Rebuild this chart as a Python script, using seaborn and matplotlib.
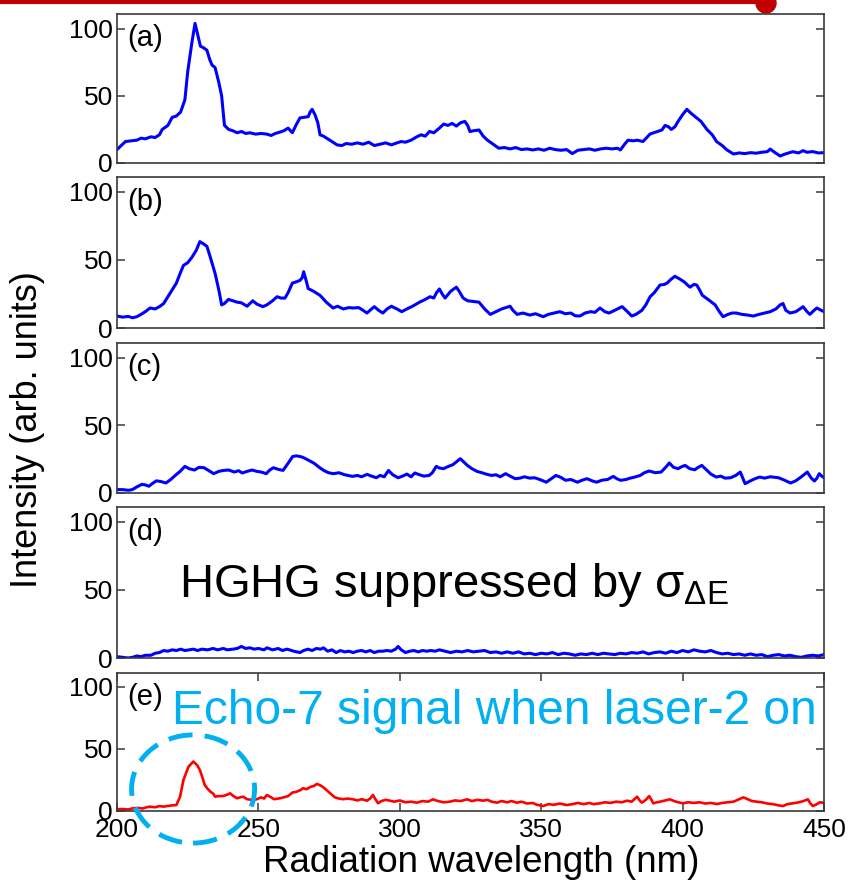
import numpy as np
import pandas as pd
import matplotlib.pyplot as plt
import seaborn as sns
from matplotlib.patches import Ellipse
from matplotlib.lines import Line2D

# 光谱数据 (波长 nm, 强度 arb. units)
wl_a = [200, 201.5, 203, 205, 207, 208.5, 210, 212, 213.5, 215, 216, 218, 219.5, 221, 222.5, 224,
        225, 226.5, 227.6, 228.5, 229.5, 230.5, 231.8, 232.8, 233.6, 234.7, 236, 237, 238, 239.5,
        241, 242.5, 244, 245.5, 247, 249, 251, 253, 254.5, 256, 257.6, 259, 260.5, 262, 263.5,
        264.7, 266, 267.6, 268.3, 269, 270, 271, 271.8, 273, 274.5, 276, 277.8, 279.5, 281, 283,
        285, 287, 289, 291, 293, 295, 297, 299, 300.5, 302, 304, 306, 307.5, 309, 310.5, 312,
        314, 315.5, 317, 318.5, 320, 321.5, 323, 324, 324.8, 326, 328, 329.5, 331, 333, 335, 337,
        339, 341, 343, 345, 347, 349, 351, 353, 355, 357, 359, 361, 363, 365, 367, 369, 371, 373,
        375, 377, 378, 379.5, 380.7, 382.5, 384, 386, 388.5, 390.5, 392.7, 393.8, 395, 396, 397.3,
        398.4, 400, 401.5, 403, 405, 406.5, 408.6, 410.5, 412, 414, 415.7, 417, 418, 420, 422,
        424, 426, 428, 430, 431, 432.5, 434.5, 436, 437.5, 439, 441, 442.6, 444, 446, 448, 450]
int_a = [10, 13, 16, 16.5, 17, 18.5, 18, 19.5, 19, 21, 25, 28, 34, 35, 38, 47,
         68, 90, 104, 96, 87, 86, 84, 77, 73, 71, 60, 50, 28, 25,
         24, 22.5, 23.5, 22, 22.5, 21.5, 22, 21.5, 20.5, 22, 23, 24, 26, 22.6, 29,
         33.6, 34, 34.5, 38, 40, 36, 30, 21, 20, 18, 16, 13.5, 13, 14.5, 14,
         15, 14, 15.5, 13, 14, 15, 13.5, 15, 16, 15.5, 17, 19.5, 21, 20, 23.5, 22.5,
         26, 29, 28, 29.5, 27.5, 30, 31, 28, 23.4, 24, 24.6, 20, 17, 14, 11, 11.5,
         10.5, 11.5, 10, 10.5, 9.7, 10.5, 9.5, 11, 10, 9.5, 10, 7, 9.5, 10, 10.5, 9.5, 10.5, 11,
         10.5, 11, 9.7, 14, 17, 16.5, 17, 16, 21.6, 23, 24.6, 28, 27, 25, 27,
         31, 36, 40, 37, 33.6, 31, 25, 21, 16, 13, 9.7, 8, 6.7, 7.5, 7,
         7.7, 7.3, 8, 8.5, 10.4, 8, 5.2, 6.5, 7.5, 8.4, 7.5, 9.2, 8, 8.5, 7.5, 7.7]

wl_b = [200, 202, 204, 205.5, 207, 208.5, 210, 211.7, 213.5, 215, 216.5, 217.7, 219.5, 221,
        222.3, 223.5, 225, 226.5, 228, 229.3, 230.5, 231.8, 233, 234.7, 236, 237, 238, 239.4,
        241, 242.5, 244, 246, 247, 248, 249.5, 251.6, 253, 255, 256.6, 258, 259.4, 260.5, 262,
        263.5, 264.7, 265.5, 266, 267, 267.6, 269.5, 271.8, 274, 276.4, 278, 280, 282, 283.5,
        285.5, 287, 288.4, 290, 291, 292.5, 294, 295.5, 297, 299, 300.7, 302.5, 304.5, 307, 309,
        310.7, 312, 313, 314, 315, 316, 318, 320, 321, 322.4, 324, 326, 328, 330, 332, 334, 336,
        337.5, 339, 340, 341.5, 343.5, 346, 348, 350.7, 352.5, 354.5, 356.6, 358.5, 360.5, 362,
        363.7, 365.5, 367.5, 369, 370.8, 372.5, 374, 376, 378.6, 380.5, 382, 383.5, 385.6, 387,
        388.5, 390, 392, 393.5, 394.5, 396, 397.3, 399, 400.5, 402.6, 404, 405, 406, 407, 409,
        411.5, 413, 414.3, 416, 417.5, 419, 421, 423, 425, 427, 429, 431, 433, 434.5, 435.5,
        436.5, 438, 440, 441.5, 442.6, 444, 445, 446.5, 447.5, 449, 450]
int_b = [8.8, 8, 8.5, 7.5, 8.3, 10, 12, 14.7, 14, 15.7, 18, 22, 28, 33,
         40, 46, 48, 52, 57, 63.5, 62, 60, 52, 40, 28, 17, 18, 21,
         20, 19, 18.5, 16, 18, 20, 17.5, 15.7, 17, 20, 23, 22, 22, 26, 33,
         34, 35, 37, 41.4, 34, 29, 27, 24, 19, 14.7, 16, 14, 15, 14.7,
         15, 13, 11, 14, 15.7, 13, 11, 14, 16, 14, 12, 14, 16, 19, 21,
         23, 22, 26, 28.7, 25, 22, 27, 30, 27, 22, 20, 19.5, 19, 14, 10, 12, 14,
         15, 16, 13, 10, 11, 9.5, 10.5, 8.3, 10, 11, 12, 10.5, 11, 9,
         8.8, 11, 12, 11.5, 14.7, 12, 11, 13, 15.7, 12, 8.8, 10, 13, 17,
         23, 26, 31.6, 32, 33, 36, 38, 36, 34, 30, 32, 31.6, 28, 24, 21,
         17, 12, 8.3, 10, 11, 11, 10, 9.5, 8.8, 10, 11, 12, 14, 17, 18,
         13, 11, 12, 14, 15.7, 12, 10, 13, 14.7, 13, 12]

wl_c = [200, 202, 204, 205.4, 207, 208.8, 210, 211.3, 212.5, 213.9, 215.5, 217.3, 219, 220.6,
        222.3, 224, 225.5, 227.4, 229, 230.8, 232.5, 234.2, 236, 237.6, 239.5, 241.5, 243, 244.3,
        246, 247.7, 249.5, 251, 252.8, 254, 255.3, 257, 258.7, 260.5, 262.1, 263.5, 265.5, 267.5,
        269.7, 271.5, 273.1, 274.8, 276.5, 278.5, 280.5, 283.3, 285, 286.5, 288.4, 290, 291.7,
        293, 294.5, 296, 297.5, 299.4, 301, 302.5, 304, 305.3, 307, 308.5, 310.4, 311.5, 312.9,
        314, 315.4, 317, 318.8, 320, 321.4, 322.6, 323.9, 325.5, 327.3, 329, 330.5, 332.4, 334,
        335.5, 337.4, 339, 340.8, 342.5, 344, 346, 347.6, 349.5, 351.8, 353.5, 355.2, 357, 358.6,
        360.5, 362.8, 364.5, 366.2, 368, 369.6, 371.5, 373.5, 375.5, 376.8, 378.1, 380, 381.5,
        383.1, 385, 386.5, 388.2, 390.3, 392.4, 394, 395.3, 396.8, 398.4, 399.7, 400.9, 402.5,
        404.3, 405.5, 406.8, 408.5, 410, 411.9, 413.5, 415, 417, 418.8, 420.4, 421.3, 422.1, 424,
        425.5, 427.2, 429, 431, 433.9, 436, 438.2, 440, 442, 444.1, 445.5, 446.6, 447.5, 448.3,
        449.2, 450]
int_c = [2.5, 2.5, 2, 2.5, 4.5, 6.4, 6, 5, 7, 9, 8.5, 7.4, 10, 13,
         16, 19.7, 18, 17, 19, 18.7, 16.5, 14.3, 16, 16.7, 17, 15.5, 16.5, 14.8,
         16, 17, 16, 15.5, 14.3, 17, 18.7, 17.5, 16.7, 22, 27, 27.5, 26.6, 24.5,
         22, 19, 16.7, 15, 14.3, 15, 13.5, 12.3, 13, 12, 13.8, 12.5, 11.3,
         13, 12, 16.7, 13.5, 11.3, 12.5, 14, 12, 14.8, 13.5, 12.5, 13, 15, 19.7,
         18.5, 18, 19.5, 21, 23, 25.4, 23, 20.4, 18, 16, 15, 14, 13, 13.5,
         12, 14.3, 12.5, 10.6, 11, 12, 11, 11.3, 10, 8, 10.5, 13, 11.5, 9.4,
         10, 8, 9.5, 10.6, 9, 8, 9.5, 10, 12.3, 10.5, 9.4, 10, 11,
         11.8, 13, 15, 16.3, 15, 15.5, 19, 22.2, 19, 18, 19.5, 20.4, 18,
         17.2, 19, 20.4, 17, 14, 11.8, 12.5, 11, 11.3, 13, 15.5, 11, 6.9, 9,
         10.5, 11.8, 11, 12, 11.3, 9.5, 7.4, 9, 12, 15.5, 11, 8.9, 11, 14.3,
         12.5, 11.3]

wl_d = [200, 202, 204, 205.5, 207, 208.5, 210, 212, 213.5, 215, 216.5, 218, 219.5, 221, 222.5,
        224, 225.5, 227, 228.5, 230, 232, 234, 235.5, 237.6, 239, 241, 242.5, 244, 245.5, 247,
        248.5, 250, 252, 253, 255, 257, 258.5, 260, 261, 262.5, 264.7, 266, 267.5, 269, 270.5,
        272, 273, 274.5, 276, 277.5, 279, 280.5, 282, 283.5, 285, 286.5, 288, 289.5, 291, 292.5,
        294, 295.5, 297, 298.5, 299.4, 300.5, 302, 303.5, 305, 306.5, 308, 309.5, 311, 312.5,
        314, 316, 318, 320, 322, 324, 326, 328, 330, 332, 334, 336, 338, 340, 342, 344, 346, 348,
        350, 352, 354, 356, 358, 360, 362, 364, 366, 368, 370, 372, 374, 376, 378, 380, 382, 384,
        386, 388, 390, 392, 394, 396, 398, 400, 402, 404, 406, 408, 410, 412, 414, 416, 418, 420,
        422, 424, 426, 428, 430, 432, 434, 436, 438, 440, 442, 444, 446, 448, 450]
int_d = [1, 0.5, 0, 0.5, 1.5, 1, 2, 2, 3.5, 4, 5.5, 5, 6, 5.5, 6.5,
         5.5, 6, 6.5, 5.5, 6.5, 6, 7, 6, 7, 6, 6.5, 7, 8.5, 7, 7.5,
         6.5, 7, 6, 7.5, 6, 7, 5.5, 6.5, 6, 5, 4, 5.5, 6.5, 5.5, 7,
         6.5, 7.5, 5, 6, 4, 5.5, 4.5, 5, 4, 5, 5.5, 4.5, 5.5, 4, 5,
         5, 5.5, 5, 6.5, 8.5, 6, 4, 5, 5.5, 4.5, 5.5, 5, 5.5, 5,
         6, 5, 4, 5, 4.5, 5.5, 4.5, 5, 5.5, 4, 4.5, 3.5, 4.5, 3.5, 4.5, 3, 3.5, 2.5,
         3.5, 3, 4, 2.5, 3.5, 3, 2, 3, 2.5, 3.5, 2.5, 3.5, 3, 2.5, 3.5, 3, 4, 3.5,
         4.5, 3, 4, 4.5, 3.5, 5, 4, 5.5, 4.5, 6, 5, 4.5, 5.5, 4, 3, 3.5, 2.5, 3,
         2, 3, 2, 2.5, 1, 2, 2.5, 1.5, 2, 1, 0.5, 1.5, 2, 1.5, 2.5]

wl_e = [200, 202, 204, 205.7, 207.5, 209, 210.5, 211.7, 213.5, 215, 216.5, 217.7, 219.5, 221,
        222.3, 223.5, 225.3, 227, 228.3, 229.3, 230.2, 231, 232, 233, 234, 234.7, 236, 237.5,
        238.8, 240, 241.2, 242.4, 243.5, 244.6, 246, 248, 249.5, 251, 252, 253, 254.5, 255.5,
        257.6, 259, 260.5, 262, 263.5, 265, 265.8, 267, 268.5, 269.5, 270.7, 272, 273, 274,
        275.5, 277, 278.5, 280, 281.5, 283.5, 285, 286.5, 288.4, 289.5, 290.5, 291.5, 292.3,
        293.5, 295, 296.5, 298, 300, 302, 304, 306, 308, 310, 311.7, 313.5, 315.5, 317.7, 319.5,
        321.5, 323.8, 325.5, 327.5, 329.4, 331, 332.5, 334.4, 336, 338, 339.5, 341.4, 343, 345,
        347, 348.5, 350.7, 352.5, 354.5, 356.5, 359, 361, 363, 365, 367, 368.5, 370.8, 372.5,
        374.5, 376.5, 378.5, 380.3, 382, 383.9, 385, 385.6, 387, 388.2, 389, 389.6, 391, 393,
        395.5, 397, 398.5, 400.1, 402, 404, 406, 408, 410, 412.2, 414, 416, 418, 419.5, 421.5,
        423, 424.5, 426.3, 428, 430, 432, 434, 435.5, 437, 438.5, 440.4, 442, 443.3, 444.3,
        445.2, 446.1, 447.5, 448.5, 449.6]
int_e = [1.4, 1.6, 1.2, 2.2, 2.5, 2, 3, 3.5, 3, 4, 3.5, 4, 4.5, 4.8,
         11.5, 25, 35.7, 39.8, 37, 33, 27, 21, 18, 15.6, 14, 11.5, 12, 12,
         13, 14.2, 12, 10.2, 11, 11.5, 9.5, 8.9, 9.5, 11, 10, 12.9, 11, 9.5,
         10.2, 11, 12, 14.8, 15.5, 17, 18.3, 17.5, 19.5, 20, 21.8, 20.5, 19, 17,
         14, 11, 10, 9.5, 10, 9.4, 8.5, 9.5, 8.3, 10, 12.9, 9, 6.2,
         8, 9, 8.3, 7.5, 8.5, 7, 7.5, 6.7, 8, 7.5, 9.4, 8, 7, 7.5, 8.5,
         8, 9.4, 8, 9, 8.3, 9, 7.5, 6.7, 8, 7, 8, 6.7, 7.5, 6,
         6.5, 5, 4, 5.5, 5, 6, 4.8, 5.5, 6.5, 5.5, 6.5, 5.5, 6.2, 7,
         6.5, 7.5, 7, 8.3, 7.5, 11.5, 8, 6.7, 9, 12, 9, 6.2, 7, 8,
         9.4, 8, 7, 6.2, 7, 6.5, 7, 6, 6.5, 5.6, 6.5, 7, 7.5, 9, 11,
         9.5, 8, 7.5, 7, 6, 5.5, 4.5, 4, 5.5, 6, 6.7, 7.5, 8.5, 9.4,
         6, 4, 5.5, 7, 6.7]

panel_labels = ['(a)', '(b)', '(c)', '(d)', '(e)']
x_ticks = [200, 250, 300, 350, 400, 450]
y_ticks = [0, 50, 100]

sns.set_style("ticks")
plt.rcParams['font.family'] = ['Liberation Sans', 'DejaVu Sans']
plt.rcParams['mathtext.fontset'] = 'custom'
plt.rcParams['mathtext.rm'] = 'Liberation Sans'
plt.rcParams['mathtext.it'] = 'Liberation Sans:italic'
plt.rcParams['text.color'] = 'black'

fig = plt.figure(figsize=(8.5, 8.93), dpi=100)

W, H = 850, 893
# 每个子图的上下边界 (像素)
panel_px = [(14, 163), (177, 328), (343, 493), (507, 658), (673, 811)]
series = [(wl_a, int_a, '#0000FF'), (wl_b, int_b, '#0000FF'), (wl_c, int_c, '#0000FF'),
          (wl_d, int_d, '#0000FF'), (wl_e, int_e, '#FF0000')]

axes = []
for i, ((top, bot), (wl, inten, col)) in enumerate(zip(panel_px, series)):
    ax = fig.add_axes([117 / W, 1 - bot / H, (824 - 117) / W, (bot - top) / H])
    df = pd.DataFrame({'wl': wl, 'I': inten})
    sns.lineplot(data=df, x='wl', y='I', ax=ax, color=col,
                 lw=2.2 if i < 4 else 1.9, estimator=None)
    ax.set_xlim(200, 450)
    ax.set_ylim(0, 111)
    ax.set_yticks(y_ticks)
    ax.set_xlabel('')
    ax.set_ylabel('')
    for s in ax.spines.values():
        s.set_color('#3a3a3a')
        s.set_linewidth(1.2)
    ax.tick_params(axis='y', direction='in', right=True, length=6, width=1.1,
                   color='#3a3a3a', labelcolor='black', labelsize=19, pad=3)
    if i < 4:
        ax.set_xticks([])
    else:
        ax.set_xticks(x_ticks)
        ax.tick_params(axis='x', direction='in', top=True, length=6, width=1.1,
                       color='#3a3a3a', labelcolor='black', labelsize=19, pad=5)
    ax.text(0.014, 0.93, panel_labels[i], transform=ax.transAxes, fontsize=21,
            ha='left', va='top', color='black')
    axes.append(ax)

# 注释文字
axes[3].text(222, 54, r'HGHG suppressed by $\mathrm{σ}_{\mathrm{ΔE}}$', fontsize=34,
             ha='left', va='center', color='black')
axes[4].text(219.5, 80, 'Echo-7 signal when laser-2 on', fontsize=34.5,
             ha='left', va='center', color='#00B0F0')

# 虚线椭圆
circ = Ellipse((226.9, 17.7), 43.5, 87, fill=False, ec='#00B0F0', lw=3.5,
               linestyle=(0, (5, 2.5)), clip_on=False, zorder=5)
axes[4].add_patch(circ)

fig.text(28 / W, 1 - 430 / H, 'Intensity (arb. units)', rotation=90, fontsize=26,
         ha='center', va='center', color='black')
fig.text(481 / W, 1 - 862 / H, 'Radiation wavelength (nm)', fontsize=26.5,
         ha='center', va='center', color='black')

# 顶部幻灯片装饰线
fig.add_artist(Line2D([0, 765 / W], [1 - 2 / H, 1 - 2 / H], color='#C00000', lw=3,
                      transform=fig.transFigure))
fig.add_artist(Ellipse((766 / W, 1 - 3 / H), 20 / W, 20 / H, color='#C00000',
                       transform=fig.transFigure))

fig.savefig('out.png', dpi=100)
